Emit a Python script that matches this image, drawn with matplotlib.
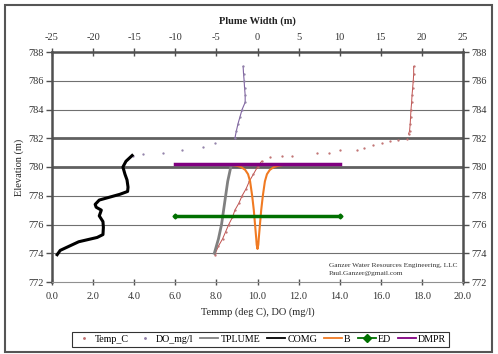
import matplotlib
matplotlib.use("Agg")
import matplotlib.pyplot as plt
from matplotlib.patches import Rectangle
import numpy as np

plt.rcParams['font.family'] = ['Liberation Serif', 'DejaVu Serif']
plt.rcParams['axes.unicode_minus'] = False

# ---------------- data ----------------
temp_elev = [787.0, 786.5, 786.0, 785.5, 785.0, 784.5, 784.0, 783.5, 783.0, 782.5, 782.3,
             781.95, 781.9, 781.8, 781.7, 781.5, 781.3, 781.2, 781.2, 781.0, 781.0, 780.8, 780.8, 780.7, 780.4,
             780.0, 779.5, 779.0, 778.5, 778.0, 777.5, 777.0, 776.5, 776.0, 775.5, 775.0, 774.5, 774.0, 773.9]
temp_c = [17.6, 17.6, 17.58, 17.55, 17.52, 17.5, 17.47, 17.45, 17.43, 17.4, 17.35,
          17.27, 16.84, 16.45, 16.06, 15.6, 15.2, 14.84, 14.0, 13.5, 12.9, 11.7, 11.2, 10.6, 10.2,
          10.0, 9.8, 9.6, 9.45, 9.25, 9.1, 8.9, 8.78, 8.6, 8.45, 8.3, 8.1, 7.95, 7.92]
temp_dense = [(0, 11), (24, 39)]

do_elev = [787.0, 786.5, 786.0, 785.5, 785.0, 784.5, 784.0, 783.5, 783.0, 782.5, 782.0,
           781.7, 781.4, 781.2, 781.0, 780.9, 780.8]
do_mgl = [9.3, 9.32, 9.35, 9.37, 9.4, 9.4, 9.25, 9.15, 9.05, 8.97, 8.9,
          7.93, 7.35, 6.33, 5.4, 4.43, 3.94]
do_dense = [(0, 11)]

comg_elev = [780.8, 780.4, 780.0, 779.5, 779.1, 778.6, 778.3, 778.1, 777.9, 777.7, 777.4, 777.2,
             777.0, 776.8, 776.6, 776.2, 775.8, 775.3, 775.1, 774.9, 774.8, 774.6, 774.4, 774.2, 773.9]
comg = [3.9, 3.6, 3.45, 3.55, 3.65, 3.7, 3.68, 3.3, 2.8, 2.3, 2.1, 2.15,
        2.4, 2.35, 2.3, 2.48, 2.5, 2.48, 2.2, 1.6, 1.3, 1.0, 0.7, 0.4, 0.25]

tplume_elev = [774.0, 775.0, 776.0, 777.0, 778.0, 779.0, 780.0]
tplume = [7.9, 8.1, 8.25, 8.35, 8.45, 8.55, 8.7]

b_elev = [780.15, 780.1, 780.0, 779.8, 779.5, 779.0, 778.0, 777.0, 776.0, 775.0, 774.6, 774.3]
b_half = [3.2, 2.6, 2.0, 1.5, 1.15, 0.9, 0.65, 0.45, 0.3, 0.15, 0.1, 0.0]

ed_elev = 776.6
ed_width = [-10, 10]
dmpr_elev = 780.2
dmpr_width = [-10, 10]

grid_thin = [774, 776, 778, 784, 786]
grid_thick = [780, 782]

# ---------------- figure ----------------
fig = plt.figure(figsize=(4.98, 3.54), dpi=100)
W, H = 498, 354
ax = fig.add_axes([52 / W, 1 - 282 / H, (463 - 52) / W, (282 - 52) / H])
ax.set_xlim(0, 20)
ax.set_ylim(772, 788)

for g in grid_thin:
    ax.axhline(g, color='#707070', lw=0.8, zorder=1)
for g in grid_thick:
    ax.axhline(g, color='#606060', lw=2.0, zorder=1)

temp_col = '#C0504D'
do_col = '#8064A2'
for a, b in temp_dense:
    ax.plot(temp_c[a:b], temp_elev[a:b], color=temp_col, lw=0.7, zorder=3)
l_temp, = ax.plot(temp_c, temp_elev, ls='none', marker='.', ms=1.3, color='#C07070',
                  label='Temp_C', zorder=3)
for a, b in do_dense:
    ax.plot(do_mgl[a:b], do_elev[a:b], color=do_col, lw=0.8, zorder=3)
l_do, = ax.plot(do_mgl, do_elev, ls='none', marker='.', ms=1.3, color='#9080A8',
                label='DO_mg/l', zorder=3)
l_tp, = ax.plot(tplume, tplume_elev, color='#808080', lw=2.0, label='TPLUME', zorder=4)
l_cm, = ax.plot(comg, comg_elev, color='black', lw=2.2, label='COMG', zorder=4)

ax.set_xticks(np.arange(0, 21, 2))
ax.set_xticklabels([f"{v:.1f}" for v in np.arange(0, 21, 2)])
ax.set_yticks(np.arange(772, 789, 2))
ax.tick_params(axis='y', direction='out', length=4, width=1, color='#505050',
               left=True, right=True, labelleft=True, labelright=True, labelsize=7.5,
               labelcolor='#333333', pad=2)
ax.tick_params(axis='x', direction='inout', length=5, width=1, color='#505050',
               labelsize=7.5, labelcolor='#333333', pad=5)
for s in ['left', 'right', 'top']:
    ax.spines[s].set_color('#505050')
    ax.spines[s].set_linewidth(1.8)
ax.spines['bottom'].set_color('#909090')
ax.spines['bottom'].set_linewidth(0.8)

ax.set_xlabel('Temmp (deg C), DO (mg/l)', fontsize=7.5, color='#222222', labelpad=4)
ax.set_ylabel('Elevation (m)', fontsize=7.5, color='#222222', labelpad=3)

ax2 = ax.twiny()
ax2.set_xlim(-25, 25)
bx = [-v for v in b_half] + [v for v in b_half[::-1]]
by = list(b_elev) + list(b_elev[::-1])
l_b, = ax2.plot(bx, by, color='#F07A22', lw=1.5, label='B', zorder=5)
l_ed, = ax2.plot(ed_width, [ed_elev, ed_elev], color='#007000', lw=2.5, marker='D', ms=2.5,
                 label='ED', zorder=6)
l_dm, = ax2.plot(dmpr_width, [dmpr_elev, dmpr_elev], color='#800080', lw=2.5,
                 label='DMPR', zorder=6)
ax2.set_xticks(np.arange(-25, 26, 5))
ax2.tick_params(axis='x', direction='inout', length=6, width=1, color='#505050',
                labelsize=7.5, labelcolor='#333333', pad=4)
for s in ax2.spines.values():
    s.set_visible(False)
ax2.set_xlabel('Plume Width (m)', fontsize=7.5, fontweight='bold', color='#222222', labelpad=7)

ax.text(329 / W, 1 - 265 / H, 'Ganzer Water Resources Engineering, LLC',
        transform=fig.transFigure, fontsize=5.3, color='#333333', ha='left', va='center', zorder=7)
ax.text(329 / W, 1 - 274 / H, 'Paul.Ganzer@gmail.com',
        transform=fig.transFigure, fontsize=5.3, color='#333333', ha='left', va='center', zorder=7)

leg = fig.legend(handles=[l_temp, l_do, l_tp, l_cm, l_b, l_ed, l_dm],
                 loc='center', bbox_to_anchor=(260.5 / W, 1 - 339 / H), ncol=7,
                 fontsize=7.2, frameon=True, fancybox=False, handlelength=1.8,
                 handletextpad=0.2, columnspacing=0.7, borderpad=0.3, markerscale=1.6)
leg.get_frame().set_edgecolor('black')
leg.get_frame().set_linewidth(0.8)
for h in leg.legend_handles:
    if h.get_linestyle() not in ('None', 'none', ''):
        h.set_linewidth(1.3)

fig.patches.append(Rectangle((5 / W, 1 - 352 / H), (492 - 5) / W, (352 - 5) / H,
                             transform=fig.transFigure, fill=False, edgecolor='#555555', lw=1.5))

fig.savefig('out.png', dpi=100)
